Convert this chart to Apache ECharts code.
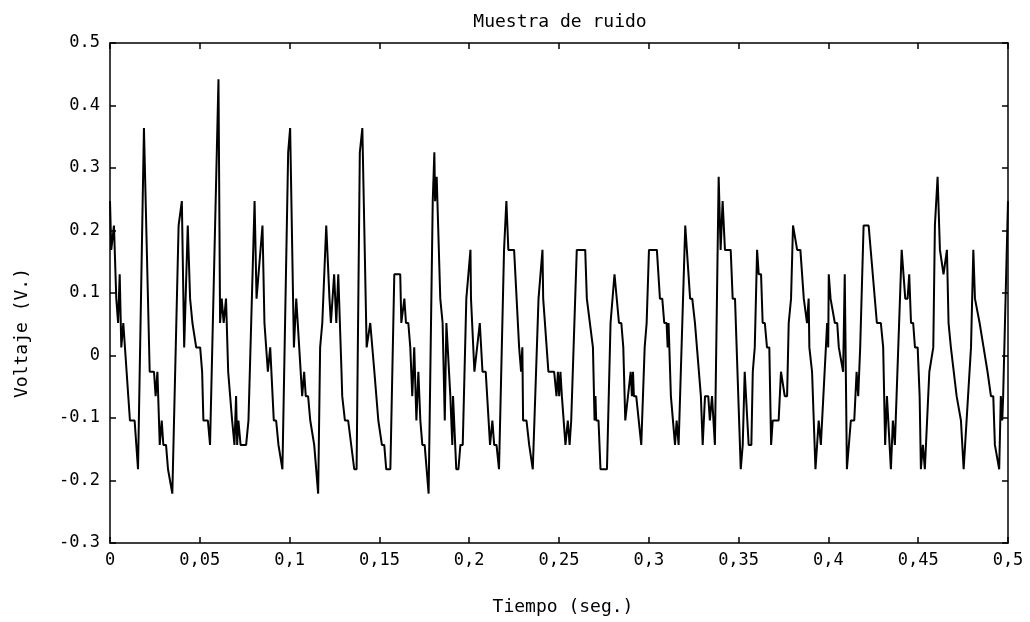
<!DOCTYPE html>
<html>
<head>
<meta charset="utf-8">
<script src="https://cdn.jsdelivr.net/npm/echarts@6/dist/echarts.min.js"></script>
<style>
html,body{margin:0;padding:0;background:#fff;}
#chart{width:1030px;height:622px;}
</style>
</head>
<body>
<div id="chart"></div>
<script>
// Time (s) of each polyline vertex
var timeS = [
0.0000,0.0007,0.0022,0.0035,0.0045,0.0054,0.0063,0.0074,0.0111,0.0137,0.0156,0.0167,0.0189,0.0221,0.0245,0.0254,0.0264,0.0277,0.0288,0.0297,0.0312,0.0323,0.0334,0.0347,0.0382,0.0400,0.0413,0.0433,0.0446,0.0459,0.0470,0.0480,0.0502,
0.0513,0.0520,0.0545,0.0557,0.0604,0.0613,0.0622,0.0633,0.0646,0.0658,0.0669,0.0680,0.0693,0.0702,0.0708,0.0715,0.0727,0.0758,0.0771,0.0805,0.0816,0.0827,0.0849,0.0860,0.0879,0.0892,0.0912,0.0925,0.0938,0.0947,0.0960,0.0992,0.1003,
0.1024,0.1037,0.1070,0.1081,0.1090,0.1103,0.1115,0.1126,0.1137,0.1148,0.1159,0.1170,0.1182,0.1204,0.1215,0.1222,0.1230,0.1239,0.1248,0.1260,0.1271,0.1289,0.1293,0.1308,0.1326,0.1360,0.1373,0.1391,0.1405,0.1429,0.1438,0.1449,0.1472,0.1483,0.1494,
0.1505,0.1514,0.1527,0.1538,0.1561,0.1583,0.1616,0.1622,0.1639,0.1648,0.1661,0.1672,0.1683,0.1694,0.1706,0.1717,0.1728,0.1739,0.1752,0.1774,0.1797,0.1806,0.1810,0.1819,0.1839,0.1852,0.1864,0.1873,0.1895,0.1906,0.1910,0.1928,0.1940,0.1951,0.1964,0.1984,0.2007,0.2010,
0.2029,0.2059,0.2064,0.2074,0.2092,0.2116,0.2129,0.2139,0.2152,0.2166,0.2194,0.2207,0.2218,0.2250,0.2278,0.2289,0.2296,0.2300,0.2319,0.2334,0.2343,0.2354,0.2386,0.2408,0.2412,0.2421,0.2441,0.2473,0.2486,0.2494,0.2501,0.2508,0.2516,
0.2536,0.2549,0.2559,0.2568,0.2599,0.2646,0.2655,0.2664,0.2689,0.2698,0.2703,0.2707,0.2720,0.2731,0.2767,0.2787,0.2809,0.2834,0.2847,0.2858,0.2869,0.2880,0.2899,0.2906,0.2912,0.2917,0.2930,0.2958,0.2977,0.2988,0.2999,0.3001,0.3045,
0.3062,0.3075,0.3086,0.3099,0.3105,0.3110,0.3123,0.3133,0.3146,0.3155,0.3166,0.3203,0.3211,0.3230,0.3242,0.3257,0.3266,0.3290,0.3300,0.3313,0.3331,0.3340,0.3352,0.3368,0.3389,0.3400,0.3411,0.3424,0.3456,0.3467,0.3480,0.3512,0.3523,0.3534,0.3556,0.3571,
0.3579,0.3590,0.3603,0.3612,0.3625,0.3634,0.3646,0.3658,0.3671,0.3681,0.3690,0.3723,0.3736,0.3746,0.3757,0.3770,0.3779,0.3792,0.3803,0.3813,0.3826,0.3844,0.3863,0.3881,0.3890,0.3894,0.3909,0.3928,0.3946,0.3958,0.3969,0.3993,0.3999,0.4002,0.4012,0.4021,0.4036,0.4049,0.4058,0.4069,0.4082,
0.4091,0.4103,0.4125,0.4144,0.4157,0.4166,0.4177,0.4196,0.4224,0.4270,0.4292,0.4305,0.4316,0.4326,0.4348,0.4359,0.4370,0.4408,0.4417,0.4428,0.4441,0.4450,0.4460,0.4472,0.4482,0.4497,0.4508,0.4515,0.4526,0.4537,
0.4562,0.4571,0.4584,0.4593,0.4608,0.4621,0.4630,0.4641,0.4650,0.4660,0.4669,0.4682,0.4693,0.4714,0.4725,0.4738,0.4753,0.4762,0.4794,0.4803,0.4807,0.4816,0.4827,0.4842,0.4853,0.4864,0.4875,0.4886,0.4896,0.4905,0.4918,0.4927,0.4938,0.4951,0.4960,0.4968,0.4973,0.5000
];
// Voltage (V) at each vertex
var voltV = [
0.247,0.169,0.208,0.091,0.052,0.130,0.013,0.052,-0.104,-0.104,-0.182,-0.182,0.364,-0.026,-0.026,-0.065,-0.026,-0.143,-0.104,-0.143,-0.143,-0.182,-0.182,-0.221,0.208,0.247,0.013,0.208,0.091,0.052,0.052,0.013,0.013,
-0.026,-0.104,-0.104,-0.143,0.442,0.052,0.091,0.052,0.091,-0.026,-0.026,-0.104,-0.143,-0.065,-0.143,-0.104,-0.143,-0.143,-0.104,0.247,0.091,0.091,0.208,0.052,-0.026,0.013,-0.104,-0.104,-0.143,-0.143,-0.182,0.325,0.364,
0.013,0.091,-0.065,-0.026,-0.065,-0.065,-0.104,-0.104,-0.143,-0.143,-0.221,0.013,0.052,0.208,0.208,0.091,0.052,0.052,0.130,0.052,0.130,-0.026,-0.065,-0.104,-0.104,-0.182,-0.182,0.325,0.364,0.013,0.013,0.052,-0.026,-0.026,-0.104,
-0.104,-0.143,-0.143,-0.182,-0.182,0.130,0.130,0.052,0.091,0.052,0.052,0.013,-0.065,0.013,-0.104,-0.026,-0.104,-0.143,-0.143,-0.221,0.247,0.325,0.247,0.286,0.091,0.052,-0.104,0.052,-0.065,-0.143,-0.065,-0.182,-0.182,-0.143,-0.143,0.091,0.169,0.091,
-0.026,0.052,0.052,-0.026,-0.026,-0.143,-0.104,-0.143,-0.143,-0.182,0.169,0.247,0.169,0.169,0.013,-0.026,0.013,-0.104,-0.104,-0.143,-0.143,-0.182,0.091,0.169,0.091,0.091,-0.026,-0.026,-0.065,-0.026,-0.065,-0.026,-0.065,
-0.143,-0.104,-0.143,-0.104,0.169,0.169,0.091,0.091,0.013,-0.104,-0.065,-0.104,-0.104,-0.182,-0.182,0.052,0.130,0.052,0.052,0.013,-0.104,-0.104,-0.026,-0.065,-0.026,-0.065,-0.065,-0.143,0.013,0.052,0.052,0.169,0.169,
0.091,0.091,0.052,0.052,0.013,0.052,-0.065,-0.065,-0.143,-0.104,-0.143,0.208,0.208,0.091,0.091,0.052,0.052,-0.065,-0.143,-0.065,-0.065,-0.104,-0.065,-0.143,0.286,0.169,0.247,0.169,0.169,0.091,0.091,-0.182,-0.143,-0.026,-0.143,-0.143,
-0.026,0.013,0.169,0.130,0.130,0.052,0.052,0.013,0.013,-0.143,-0.104,-0.104,-0.026,-0.026,-0.065,-0.065,0.052,0.091,0.208,0.208,0.169,0.169,0.091,0.052,0.091,0.013,-0.026,-0.182,-0.104,-0.143,-0.143,0.052,0.013,0.130,0.091,0.091,0.052,0.052,0.013,0.013,-0.026,
0.130,-0.182,-0.104,-0.104,-0.026,-0.065,0.013,0.208,0.208,0.052,0.052,0.013,-0.143,-0.065,-0.182,-0.104,-0.143,0.169,0.169,0.091,0.091,0.130,0.052,0.052,0.013,0.013,-0.065,-0.182,-0.143,-0.182,
-0.026,-0.026,0.013,0.208,0.286,0.169,0.169,0.130,0.130,0.169,0.052,0.013,0.013,-0.065,-0.065,-0.104,-0.182,-0.182,0.013,0.013,0.169,0.091,0.091,0.052,0.052,0.013,0.013,-0.026,-0.026,-0.065,-0.065,-0.143,-0.143,-0.182,-0.065,-0.104,-0.065,0.247
];
var chartTitle = 'Muestra de ruido';
var xName = 'Tiempo (seg.)';
var yName = 'Voltaje (V.)';

var FONT = 'DejaVu Sans Mono';
var chart = echarts.init(document.getElementById('chart'), null, {renderer: 'canvas'});
var seriesData = timeS.map(function (t, i) { return [t, voltV[i]]; });
var axisLine = {show: true, onZero: false, lineStyle: {color: '#000', width: 1.5}};
var tick = {show: true, inside: true, length: 6, lineStyle: {color: '#000', width: 1.5}};

chart.setOption({
  animation: false,
  backgroundColor: '#fff',
  grid: {left: 110, right: 22, top: 43, bottom: 79, containLabel: false},
  xAxis: [{
    type: 'value', min: 0, max: 0.5, interval: 0.05, position: 'bottom',
    axisLine: axisLine, axisTick: tick, splitLine: {show: false},
    axisLabel: {color: '#000', fontSize: 17, fontFamily: FONT, margin: 9,
      formatter: function (v) { return String(+v.toFixed(2)).replace('.', ','); }}
  }, {
    type: 'value', min: 0, max: 0.5, interval: 0.05, position: 'top',
    axisLine: axisLine, axisTick: tick, splitLine: {show: false}, axisLabel: {show: false}
  }],
  yAxis: [{
    type: 'value', min: -0.3, max: 0.5, interval: 0.1, position: 'left',
    axisLine: axisLine, axisTick: tick, splitLine: {show: false},
    axisLabel: {color: '#000', fontSize: 17, fontFamily: FONT, margin: 10,
      formatter: function (v) { return String(+v.toFixed(1)); }}
  }, {
    type: 'value', min: -0.3, max: 0.5, interval: 0.1, position: 'right',
    axisLine: axisLine, axisTick: tick, splitLine: {show: false}, axisLabel: {show: false}
  }],
  graphic: [
    {type: 'text', x: 560, y: 22, style: {text: chartTitle, fill: '#000', font: '18px "' + FONT + '"', textAlign: 'center', textVerticalAlign: 'middle'}},
    {type: 'text', x: 563, y: 607, style: {text: xName, fill: '#000', font: '18px "' + FONT + '"', textAlign: 'center', textVerticalAlign: 'middle'}},
    {type: 'text', x: 22, y: 333, rotation: Math.PI / 2, style: {text: yName, fill: '#000', font: '18px "' + FONT + '"', textAlign: 'center', textVerticalAlign: 'middle'}}
  ],
  series: [{
    type: 'line', xAxisIndex: 0, yAxisIndex: 0, data: seriesData,
    showSymbol: false, symbol: 'none',
    lineStyle: {color: '#000', width: 2}
  }]
});
</script>
</body>
</html>
